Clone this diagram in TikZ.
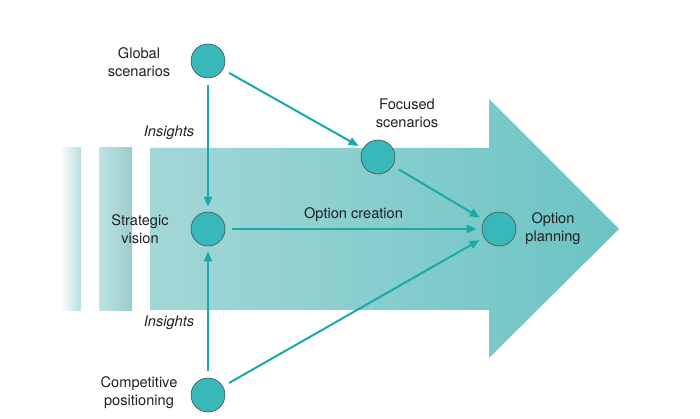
\documentclass[tikz,border=0pt]{standalone}
\usepackage{fontspec}
\setmainfont{TeX Gyre Heros}
\usetikzlibrary{arrows.meta}
\definecolor{tealdot}{HTML}{38B8B8}
\definecolor{tealline}{HTML}{1AA9A9}
\definecolor{txt}{HTML}{231F20}
\definecolor{bandA}{HTML}{A3D7D7}
\definecolor{bandB}{HTML}{6BC3C3}
\begin{document}
\begin{tikzpicture}[x=1pt,y=-1pt,
  dot/.style={circle,draw=black!70,line width=0.6pt,fill=tealdot,minimum size=34pt,inner sep=0pt},
  lbl/.style={text=txt,font=\fontsize{14.6}{18}\selectfont,align=center,inner sep=0pt},
  ins/.style={lbl,font=\fontsize{14.6}{18}\selectfont\itshape},
  conn/.style={draw=tealline,line width=2pt,-{Triangle[length=10pt,width=8pt]},shorten <=7pt,shorten >=5pt}]
\useasboundingbox (0,0) rectangle (700,419);
% bands
\shade[left color=white,right color=bandA!80] (60,148) rectangle (81,310);
\shade[left color=bandA!70,right color=bandA!95!black] (99,148) rectangle (132,310);
\shade[left color=bandA,right color=bandB] (150,148) -- (489,148) -- (489,99) -- (619,229) -- (489,358) -- (489,310) -- (150,310) -- cycle;
% nodes
\node[dot] (gs) at (208,61) {};
\node[dot] (fs) at (378,157) {};
\node[dot] (sv) at (208,229) {};
\node[dot] (op) at (499,229) {};
\node[dot] (cp) at (208,395) {};
% labels
\node[lbl] (lgs) at (139,62) {Global\\scenarios};
\node[lbl] (lfs) at (407,113) {Focused\\scenarios};
\node[lbl] (lsv) at (140,229) {Strategic\\vision};
\node[lbl] (lop) at (553,229) {Option\\planning};
\node[lbl] (lcp) at (139,393) {Competitive\\positioning};
\node[ins] (i1) at (169,133) {Insights};
\node[ins] (i2) at (169,323) {Insights};
% connectors
\draw[conn] (gs) -- (sv);
\draw[conn] (gs) -- (fs);
\draw[conn] (fs) -- (op);
\draw[conn] (sv) -- node[lbl,yshift=14pt] (oc) {Option creation} (op);
\draw[conn] (cp) -- (sv);
\draw[conn] (cp) -- (op);
\end{tikzpicture}
\end{document}
